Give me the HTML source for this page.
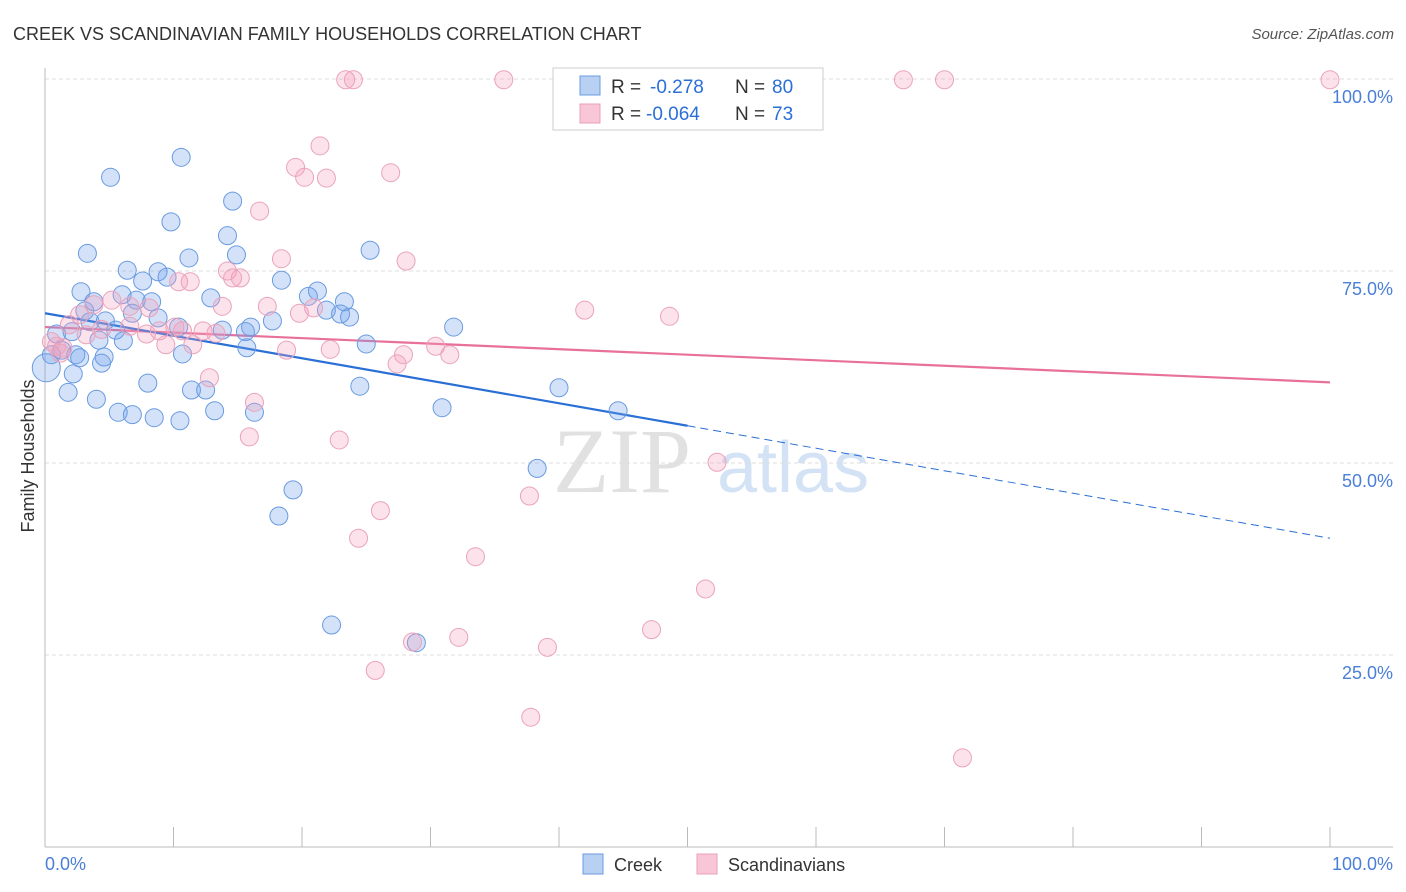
<!DOCTYPE html>
<html><head><meta charset="utf-8"><style>
body{margin:0;background:#fff;font-family:"Liberation Sans",sans-serif;}
#wrap{position:relative;width:1406px;height:892px;overflow:hidden;}
</style></head><body>
<div id="wrap">
<svg id="svg" width="1406" height="892" style="position:absolute;left:0;top:0">
<text x="13" y="40" font-size="18" fill="#333">CREEK VS SCANDINAVIAN FAMILY HOUSEHOLDS CORRELATION CHART</text>
<text x="1394" y="39" font-size="15" fill="#555" font-style="italic" text-anchor="end">Source: ZipAtlas.com</text>
<text x="0" y="0" font-size="18" fill="#333" text-anchor="middle" transform="translate(34,456) rotate(-90)">Family Households</text>
<g opacity="0.9">
<text x="553" y="492" font-size="92" fill="#dedede" font-family="Liberation Serif">ZIP</text>
<text x="717" y="492" font-size="72" fill="#cfe0f4">atlas</text>
</g>
<g id="grid"></g><g id="axes"></g><g id="lines"></g><g id="pts"></g>
<g>
<rect x="553" y="68" width="270" height="62" fill="#fff" stroke="#ccc"/>
<rect x="580" y="76" width="20" height="19" fill="#b8d0f2" stroke="#6a9be0"/>
<rect x="580" y="104" width="20" height="19" fill="#f8c6d6" stroke="#e8a0b8"/>
<g font-size="19">
<text x="611" y="93" fill="#333">R =</text><text x="650" y="93" fill="#2a6fd6">-0.278</text>
<text x="735" y="93" fill="#333">N =</text><text x="772" y="93" fill="#2a6fd6">80</text></g>
<g font-size="19">
<text x="611" y="120" fill="#333">R =</text><text x="646" y="120" fill="#2a6fd6">-0.064</text>
<text x="735" y="120" fill="#333">N =</text><text x="772" y="120" fill="#2a6fd6">73</text></g>
</g>
<g>
<rect x="583" y="854" width="20" height="20" fill="#b8d0f2" stroke="#6a9be0"/>
<text x="614" y="871" font-size="18" fill="#333">Creek</text>
<rect x="697" y="854" width="20" height="20" fill="#f8c6d6" stroke="#e8a0b8"/>
<text x="728" y="871" font-size="18" fill="#333">Scandinavians</text>
</g>
</svg>
</div>
<script>
const yTicks=[25,50,75,100];
const yTickLabels=["25.0%","50.0%","75.0%","100.0%"];
const xTicks=[0,10,20,30,40,50,60,70,80,90,100];
const xEndLabels=["0.0%","100.0%"];
const creekX=[5.1,10.6,9.8,14.6,14.2,3.3,11.2,14.9,6.4,8.8,9.5,7.6,18.4,25.3,2.8,3.8,6.0,7.1,8.3,12.9,20.5,21.2,23.3,21.9,23.0,23.7,3.1,3.5,4.7,6.8,8.8,10.4,13.8,16.0,15.6,17.7,0.9,2.1,4.2,5.5,6.1,0.5,1.3,2.4,2.7,4.6,4.4,10.7,15.7,25.0,31.8,2.2,8.0,1.8,4.0,11.4,12.5,24.5,40.0,5.7,6.8,8.5,10.5,13.2,16.3,30.9,44.6,38.3,19.3,18.2,22.3,28.9,0.1];
const creekY=[87.2,89.8,81.4,84.1,79.6,77.3,76.7,77.1,75.1,74.9,74.2,73.7,73.8,77.7,72.3,71.0,71.9,71.2,71.0,71.5,71.7,72.4,71.0,69.9,69.4,69.0,69.8,68.4,68.5,69.5,68.9,67.7,67.3,67.7,67.1,68.5,66.8,67.1,66.0,67.3,65.9,64.1,64.7,64.1,63.7,63.8,63.0,64.2,65.0,65.5,67.7,61.6,60.4,59.2,58.3,59.5,59.5,60.0,59.8,56.6,56.3,55.9,55.5,56.8,56.6,57.2,56.8,49.3,46.5,43.1,28.9,26.6,62.4];
const scanX=[23.4,24.0,35.7,66.8,70.0,100,21.4,19.5,20.2,21.9,26.9,16.7,18.4,28.1,14.2,15.2,10.4,11.3,14.6,17.3,19.8,20.9,13.8,6.6,5.2,3.8,8.1,42.0,48.6,2.7,1.9,4.4,6.6,7.9,8.9,10.1,10.7,12.3,13.3,1.4,3.2,11.5,9.4,18.8,22.2,27.9,27.4,30.4,31.5,12.8,16.3,15.9,22.9,37.7,52.3,26.1,24.4,33.5,51.4,28.6,32.2,39.1,47.2,25.7,37.8,71.4,0.9,1.2,0.5];
const scanY=[99.9,99.9,99.9,99.9,99.9,99.9,91.3,88.5,87.2,87.1,87.8,82.8,76.6,76.3,75.0,74.1,73.6,73.6,74.1,70.4,69.5,70.2,70.4,70.4,71.2,70.6,70.2,69.9,69.1,69.3,68.0,67.4,67.8,66.8,67.2,67.7,67.2,67.2,66.9,65.0,66.7,65.4,65.4,64.7,64.8,64.1,62.9,65.2,64.1,61.1,57.9,53.4,53.0,45.7,50.1,43.8,40.2,37.8,33.6,26.7,27.3,26.0,28.3,23.0,16.9,11.6,65.2,64.3,65.8];
const creekTrend=[69.5,40.2];
const scanTrend=[67.7,60.5];
const creekSolidEnd=50;

const NS="http://www.w3.org/2000/svg";
function X(v){return 45+v*12.85;}
function Y(v){return 847-v*7.68;}
function mk(tag,attrs,parent){const e=document.createElementNS(NS,tag);for(const k in attrs)e.setAttribute(k,attrs[k]);document.getElementById(parent).appendChild(e);return e;}

yTicks.forEach((t,i)=>{
  const l=mk('line',{x1:45,x2:1393,y1:Y(t),y2:Y(t),stroke:'#ddd','stroke-dasharray':'4,3'},'grid');
  
  
  const tx=mk('text',{x:1393,y:Y(t)+24,'font-size':18,fill:'#4a7fd6','text-anchor':'end'},'grid');
  tx.textContent=yTickLabels[i];
  
  
});
let a=mk('line',{x1:45,x2:45,y1:68,y2:847,stroke:'#bbb'},'axes');


a=mk('line',{x1:45,x2:1393,y1:847,y2:847,stroke:'#bbb'},'axes');


xTicks.forEach(t=>{
  const l=mk('line',{x1:X(t),x2:X(t),y1:827,y2:847,stroke:'#bbb'},'axes');
  
  
});
let t0=mk('text',{x:45,y:870,'font-size':18,fill:'#4a7fd6'},'axes');t0.textContent=xEndLabels[0];


let t1=mk('text',{x:1393,y:870,'font-size':18,fill:'#4a7fd6','text-anchor':'end'},'axes');t1.textContent=xEndLabels[1];



creekX.forEach((x,i)=>{
  const c=mk('circle',{cx:X(x),cy:Y(creekY[i]),r:i==creekX.length-1?14:9,fill:'rgba(110,160,235,0.3)',stroke:'#6a9be0','stroke-width':1},'pts');
  
  
});
scanX.forEach((x,i)=>{
  const c=mk('circle',{cx:X(x),cy:Y(scanY[i]),r:9,fill:'rgba(245,160,190,0.3)',stroke:'#eaa3bb','stroke-width':1},'pts');
  
  
});
function ty(tr,x){return tr[0]+(tr[1]-tr[0])*x/100;}
let l=mk('line',{x1:X(0),y1:Y(ty(scanTrend,0)),x2:X(100),y2:Y(ty(scanTrend,100)),stroke:'#e8709a','stroke-width':2.2},'lines');


l=mk('line',{x1:X(0),y1:Y(ty(creekTrend,0)),x2:X(creekSolidEnd),y2:Y(ty(creekTrend,creekSolidEnd)),stroke:'#2a6fd6','stroke-width':2.2},'lines');


l=mk('line',{x1:X(creekSolidEnd),y1:Y(ty(creekTrend,creekSolidEnd)),x2:X(100),y2:Y(ty(creekTrend,100)),stroke:'#2a6fd6','stroke-width':1,'stroke-dasharray':'8,5'},'lines');


</script>
</body></html>
